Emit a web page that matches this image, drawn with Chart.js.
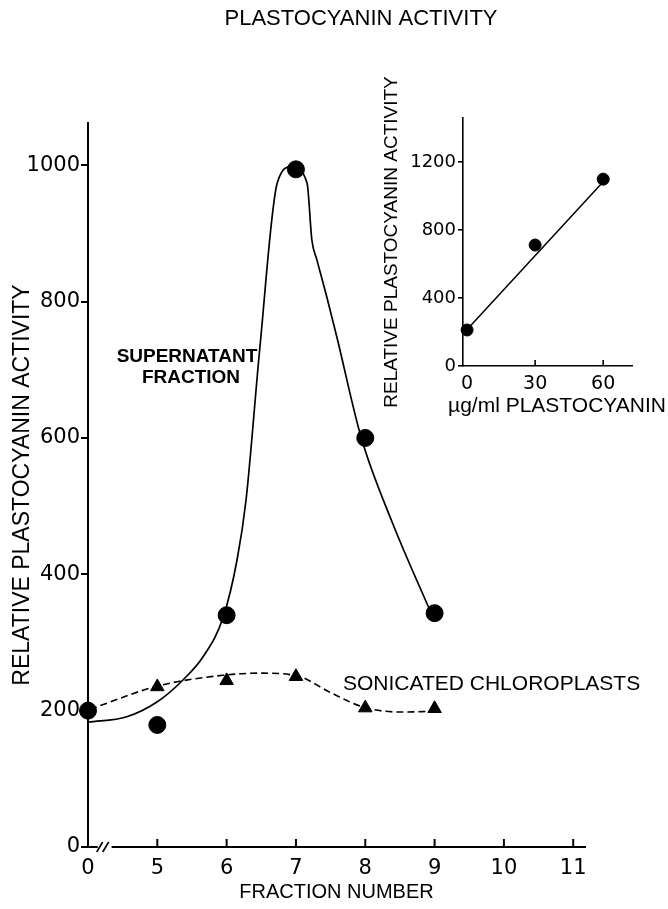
<!DOCTYPE html>
<html>
<head>
<meta charset="utf-8">
<script src="https://cdn.jsdelivr.net/npm/chart.js@4.4.1/dist/chart.umd.min.js"></script>
<style>
html,body{margin:0;padding:0;background:#fff;}
#wrap{position:relative;width:668px;height:909px;background:#fff;}
#wrap canvas{position:absolute;left:0;top:0;}
</style>
</head>
<body>
<div id="wrap">
<canvas id="main" width="668" height="909"></canvas>
<canvas id="inset" width="668" height="909"></canvas>
</div>
<script>
// ---------------- DATA ----------------
// Main panel: x = fraction number (axis is broken between 0 and 5)
const fractionTicks = [0, 5, 6, 7, 8, 9, 10, 11];
const activityTicks = [0, 200, 400, 600, 800, 1000];

// Supernatant fraction (filled circles)
const supernatantFraction = [0, 5, 6, 7, 8, 9];
const supernatantActivity = [200, 179, 340, 994, 600, 343];

// Sonicated chloroplasts (filled triangles)
const sonicatedFraction = [5, 6, 7, 8, 9];
const sonicatedActivity = [235, 244, 250, 204, 203];

// Hand-drawn smooth curves (x in axis units; fraction 0 sits at 4 because of the break)
const supernatantCurveX = [4.0, 4.56, 5.0, 5.37, 5.66, 5.95, 6.15, 6.28, 6.48, 6.73, 6.94, 7.16, 7.23, 7.3, 7.45, 7.59, 7.94, 8.39, 8.95];
const supernatantCurveY = [183, 191, 213, 245, 279, 337, 421, 509, 733, 974, 998, 974, 890, 862, 805, 748, 601, 476, 343];
const sonicatedCurveX = [4.03, 5.0, 5.95, 6.48, 7.02, 7.49, 7.98, 8.5, 9.0];
const sonicatedCurveY = [202, 236, 252, 255, 251, 227, 205, 198, 199];

// Inset: activity vs plastocyanin concentration
const insetConc = [0, 30, 60];
const insetActivity = [212, 712, 1100];
const insetFitConc = [0, 60];
const insetFitActivity = [215, 1085];
const insetXTicks = [0, 30, 60];
const insetYTicks = [0, 400, 800, 1200];

// axis break: fraction 0 is drawn one unit left of fraction 5
const axisPos = f => (f === 0 ? 4 : f);
const pts = (xs, ys, fx) => xs.map((x, i) => ({ x: fx ? fx(x) : x, y: ys[i] }));

const INK = '#000';
const LAB = 'Liberation Sans, Arial, sans-serif';
const NUM = 'DejaVu Sans, sans-serif';

// ---------------- decorations plugin (main) ----------------
const mainDeco = {
  id: 'mainDeco',
  afterDraw(chart) {
    const ctx = chart.ctx;
    const xs = chart.scales.x, ys = chart.scales.y;
    const y0 = ys.getPixelForValue(0);
    ctx.save();
    ctx.strokeStyle = INK;
    ctx.lineWidth = 2;
    // inward tick marks on the x axis
    fractionTicks.forEach(f => {
      if (f === 0) return;
      const px = xs.getPixelForValue(axisPos(f));
      ctx.beginPath(); ctx.moveTo(px, y0); ctx.lineTo(px, y0 - 8); ctx.stroke();
    });
    // axis break
    const b1 = xs.getPixelForValue(4.14), b2 = xs.getPixelForValue(4.34);
    ctx.fillStyle = '#fff';
    ctx.fillRect(b1, y0 - 2, b2 - b1, 4);
    ctx.lineWidth = 1.6;
    [b1 + 2, b1 + 8].forEach(bx => {
      ctx.beginPath(); ctx.moveTo(bx - 3, y0 + 5); ctx.lineTo(bx + 3, y0 - 5); ctx.stroke();
    });
    // texts
    ctx.fillStyle = INK;
    ctx.textBaseline = 'middle';
    ctx.textAlign = 'center';
    ctx.font = '22px ' + LAB;
    ctx.fillText('PLASTOCYANIN ACTIVITY', 361, 19);
    ctx.font = 'bold 19px ' + LAB;
    ctx.fillText('SUPERNATANT', 187, 357);
    ctx.fillText('FRACTION', 191, 378);
    ctx.textAlign = 'left';
    ctx.font = '21px ' + LAB;
    ctx.fillText('SONICATED CHLOROPLASTS', 343, 684);
    ctx.restore();
  }
};

const insetDeco = {
  id: 'insetDeco',
  afterDraw(chart) {
    const ctx = chart.ctx;
    const xs = chart.scales.x, ys = chart.scales.y;
    const y0 = ys.getPixelForValue(0);
    ctx.save();
    ctx.strokeStyle = INK;
    ctx.lineWidth = 1.6;
    insetXTicks.forEach(v => {
      if (v === 0) return;
      const px = xs.getPixelForValue(v);
      ctx.beginPath(); ctx.moveTo(px, y0); ctx.lineTo(px, y0 - 6); ctx.stroke();
    });
    // x-axis title of the inset (offset to the right as in the figure)
    ctx.fillStyle = INK;
    ctx.textBaseline = 'middle';
    ctx.textAlign = 'center';
    ctx.font = '21px ' + LAB;
    ctx.fillText('µg/ml PLASTOCYANIN', 557, 406);
    ctx.restore();
  }
};

// ---------------- main chart ----------------
new Chart(document.getElementById('main'), {
  type: 'scatter',
  data: {
    datasets: [
      {
        label: 'Supernatant fraction',
        data: pts(supernatantFraction, supernatantActivity, axisPos),
        pointStyle: 'circle', pointRadius: 8.5, pointBackgroundColor: INK, pointBorderColor: INK,
        showLine: false, clip: false
      },
      {
        label: 'Sonicated chloroplasts',
        data: pts(sonicatedFraction, sonicatedActivity, axisPos),
        pointStyle: 'triangle', pointRadius: 7.8, pointBackgroundColor: INK, pointBorderColor: INK,
        showLine: false, clip: false
      },
      {
        type: 'line', label: 'Supernatant curve',
        data: pts(supernatantCurveX, supernatantCurveY),
        borderColor: INK, borderWidth: 1.7, pointRadius: 0, fill: false,
        cubicInterpolationMode: 'monotone', clip: false
      },
      {
        type: 'line', label: 'Sonicated curve',
        data: pts(sonicatedCurveX, sonicatedCurveY),
        borderColor: INK, borderWidth: 1.6, borderDash: [7, 4], pointRadius: 0, fill: false,
        cubicInterpolationMode: 'monotone', clip: false
      }
    ]
  },
  options: {
    responsive: false, animation: false, devicePixelRatio: 1,
    layout: { padding: { left: 0, right: 83, top: 123, bottom: 0 } },
    plugins: { legend: { display: false }, tooltip: { enabled: false }, title: { display: false } },
    scales: {
      x: {
        type: 'linear', min: 4, max: 11.17,
        afterFit(s) { s.height = 62; },
        afterBuildTicks(s) { s.ticks = fractionTicks.map(f => ({ value: axisPos(f) })); },
        ticks: {
          callback: (v, i) => String(fractionTicks[i]),
          font: { family: NUM, size: 21 }, color: INK, padding: 9, autoSkip: false, maxRotation: 0
        },
        grid: { drawOnChartArea: false, drawTicks: false },
        border: { display: true, color: INK, width: 2 },
        title: { display: true, text: 'FRACTION NUMBER', color: INK, font: { family: LAB, size: 20 }, padding: { top: 0, bottom: 5 } }
      },
      y: {
        type: 'linear', min: 0, max: 1062,
        afterFit(s) { s.width = 88; },
        afterBuildTicks(s) { s.ticks = activityTicks.map(v => ({ value: v })); },
        ticks: { callback: v => String(v), font: { family: NUM, size: 21 }, color: INK, padding: 1 },
        grid: { drawOnChartArea: false, drawTicks: true, tickLength: 7, color: INK, lineWidth: 2 },
        border: { display: true, color: INK, width: 2 },
        title: { display: true, text: 'RELATIVE PLASTOCYANIN ACTIVITY', color: INK, font: { family: LAB, size: 23 }, padding: { top: 9, bottom: 0 } }
      }
    }
  },
  plugins: [mainDeco]
});

// ---------------- inset chart ----------------
new Chart(document.getElementById('inset'), {
  type: 'scatter',
  data: {
    datasets: [
      {
        label: 'Activity',
        data: pts(insetConc, insetActivity),
        pointStyle: 'circle', pointRadius: 6, pointBackgroundColor: INK, pointBorderColor: INK,
        showLine: false, clip: false
      },
      {
        type: 'line', label: 'Fit',
        data: pts(insetFitConc, insetFitActivity),
        borderColor: INK, borderWidth: 1.5, pointRadius: 0, tension: 0, fill: false
      }
    ]
  },
  options: {
    responsive: false, animation: false, devicePixelRatio: 1,
    layout: { padding: { left: 378, right: 36, top: 118, bottom: 491 } },
    plugins: { legend: { display: false }, tooltip: { enabled: false } },
    scales: {
      x: {
        type: 'linear', min: -1.8, max: 72.7,
        afterFit(s) { s.height = 52; },
        afterBuildTicks(s) { s.ticks = insetXTicks.map(v => ({ value: v })); },
        ticks: { callback: v => String(v), font: { family: NUM, size: 19 }, color: INK, padding: 7, autoSkip: false, maxRotation: 0 },
        grid: { drawOnChartArea: false, drawTicks: false },
        border: { display: true, color: INK, width: 1.6 },
        title: { display: false, text: 'µg/ml PLASTOCYANIN' }
      },
      y: {
        type: 'linear', min: 0, max: 1460,
        afterFit(s) { s.width = 85; },
        afterBuildTicks(s) { s.ticks = insetYTicks.map(v => ({ value: v })); },
        ticks: { callback: v => String(v), font: { family: NUM, size: 18 }, color: INK, padding: 2 },
        grid: { drawOnChartArea: false, drawTicks: true, tickLength: 5, color: INK, lineWidth: 1.6 },
        border: { display: true, color: INK, width: 1.6 },
        title: { display: true, text: 'RELATIVE PLASTOCYANIN ACTIVITY', color: INK, font: { family: LAB, size: 19 }, padding: { top: 2, bottom: 0 } }
      }
    }
  },
  plugins: [insetDeco]
});
</script>
</body>
</html>
